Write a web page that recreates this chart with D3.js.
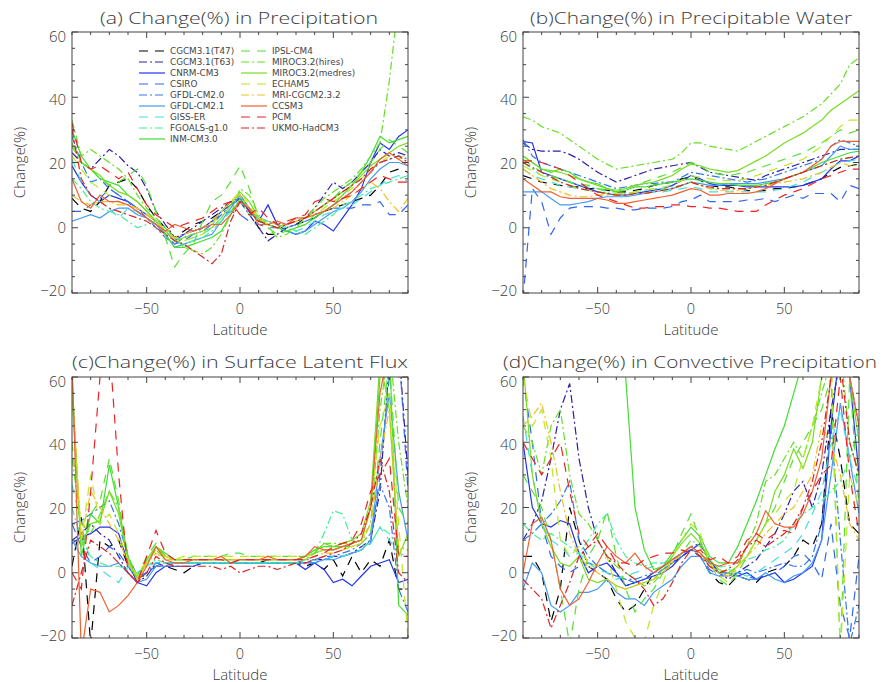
<!DOCTYPE html>
<html>
<head>
<meta charset="utf-8">
<script src="https://cdn.jsdelivr.net/npm/d3@7"></script>
<style>
  body { margin: 0; background: #fff; }
  text { font-family: "Open Sans", "DejaVu Sans", sans-serif; font-weight: 300; fill: #3a3a3a; }
  .legend text { font-family: "DejaVu Sans", sans-serif; font-weight: 400; fill: #444; }
</style>
</head>
<body>
<svg width="881" height="682"></svg>
<script>
// latitude grid (deg)
const lats = [-90,-85,-80,-75,-70,-65,-60,-55,-50,-45,-40,-35,-30,-25,-20,-15,-10,-5,0,5,10,15,20,25,30,35,40,45,50,55,60,65,70,75,80,85,90];

const models = ["CGCM3.1(T47)","CGCM3.1(T63)","CNRM-CM3","CSIRO","GFDL-CM2.0","GFDL-CM2.1","GISS-ER","FGOALS-g1.0","INM-CM3.0",
                "IPSL-CM4","MIROC3.2(hires)","MIROC3.2(medres)","ECHAM5","MRI-CGCM2.3.2","CCSM3","PCM","UKMO-HadCM3"];

const xTicks = [-50, 0, 50];
const yTicks = [-20, 0, 20, 40, 60];

// (a) precipitation change, one row per model
const precipChange = [
  [9,6,5,8,13,14,15,12,7,3,0,-3,-1,1,2,3,5,8,9,5,0,-2,-2,0,1,2,3,5,6,7,8,9,10,13,17,18,17],
  [23,20,18,21,24,22,19,17,12,5,1,-3,-2,0,2,4,6,8,8,4,0,-4,-2,0,1,3,6,10,14,12,14,17,20,24,22,23,22],
  [19,14,10,8,10,9,8,6,4,2,-1,-4,-2,-1,0,2,5,7,9,5,2,7,1,-1,-2,-1,2,1,-1,3,7,12,20,26,24,28,30],
  [5,5,7,9,12,10,8,5,3,1,-2,-5,-4,-2,0,2,4,5,4,2,1,0,0,1,2,3,4,5,6,6,6,7,7,8,4,4,7],
  [28,20,14,15,12,10,8,6,3,0,-3,-5,-3,-2,-1,1,4,7,10,6,3,2,1,0,1,2,3,5,7,9,11,14,17,20,21,22,21],
  [2,3,4,3,5,6,6,4,3,1,-2,-6,-5,-4,-3,-2,2,6,10,6,2,1,0,-1,-2,-1,1,3,5,6,8,11,15,18,20,20,19],
  [21,14,10,8,6,3,6,5,3,1,-1,-3,-4,-3,-2,0,2,5,8,5,3,2,1,0,-1,0,2,4,5,6,7,9,11,13,15,16,14],
  [15,12,8,6,5,4,2,0,1,2,0,-4,-5,-4,-3,-1,2,5,8,4,2,2,1,0,-1,-2,0,2,4,7,8,10,12,13,14,15,16],
  [30,22,18,15,14,13,10,8,5,2,-2,-6,-6,-5,-4,-3,-1,4,9,6,2,1,0,-1,0,1,3,5,7,10,13,17,22,28,26,27,28],
  [25,20,18,15,13,14,16,18,13,5,-3,-12,-8,-5,2,8,10,14,19,12,3,0,-2,-1,0,1,4,7,9,12,14,17,20,24,27,25,23],
  [33,22,24,22,20,18,15,10,6,3,0,-3,-6,-7,-8,-6,-2,4,12,10,4,0,-3,-2,0,3,6,9,11,13,15,18,22,26,45,70,80],
  [26,20,18,16,13,11,10,8,5,2,-1,-4,-3,-2,-1,0,3,7,11,8,3,1,0,1,2,3,5,7,9,11,13,16,19,21,23,25,26],
  [22,18,14,12,10,8,7,6,4,2,-1,-3,-4,-3,-2,1,5,8,11,7,3,1,0,1,2,3,4,6,8,10,12,15,18,20,22,21,23],
  [10,8,7,8,8,7,7,6,4,2,-1,-3,-2,-1,0,2,5,8,10,6,3,2,1,1,2,3,4,5,6,8,10,12,14,12,8,5,9],
  [15,8,6,10,8,8,7,5,3,1,-1,1,0,-1,0,1,1,4,8,6,1,1,2,1,3,3,4,5,7,9,11,14,17,21,23,21,19],
  [32,20,18,19,17,15,17,12,7,4,2,0,1,2,3,5,7,8,4,4,6,3,1,2,3,4,8,9,8,9,10,12,14,16,15,14,14],
  [30,15,10,8,6,5,4,3,2,0,-2,-4,-5,-7,-9,-11,-8,2,8,5,2,1,0,1,2,3,5,7,9,11,13,15,18,20,21,22,20]
];

// (b) precipitable water change
const pwChange = [
  [16,15,14,13.5,13,12.5,12.5,12,12,11.5,11,11,11.5,12,13,13.5,14,15,15.5,14.5,13,12.5,12.5,12,11.5,11,11.5,12,12,12.5,13,14,15,17,18.5,19,19.5],
  [26,24,23.5,23.5,23.5,22.5,21,19,17,15.5,14,15,16,17,18,18.5,19,19.5,20,18.5,17,16.5,16,15.5,15,14.5,16,17,18,19,20,21,22,23,24,24,24],
  [26.5,26,17,16,15,14,13,12,11,10.5,10,10,10.5,11,11.5,12,13,14.5,16,15,13.5,13,13,13,12.5,12.5,12.5,12.5,12.5,12.5,13,14,15,18,20.5,20.5,22],
  [-22,12,8,-2,3,6,6.5,6.5,6.5,6,6,5.5,5.5,6,6,6,6.5,8,8.5,10,8,8,8,8,8.5,8.5,9,8,9,10,9,10.5,10.5,10.5,8,13,12],
  [27,22,20,19,18,17,16,15,14,13,12,12.5,13,13.5,13.5,14,14,15.5,17,16.5,16,15.5,15,14.5,14,14.5,15,16,17,18,19,20,21,25,27,26,25],
  [11,11,11,9,7,7,7.5,8,9,9.5,9.5,9.5,10,10.5,11,11.5,12,13,14,13.5,13,13,13.5,13.5,13.5,13.5,14,14.5,15,16,17,18,19,22,25,24,24],
  [18,16,15,14,13,12.5,12,11.5,11,10.5,10,10,10.5,10.5,11,11,11.5,12,12.5,12,11,11,11,11,11,11,11,11.5,12,13,14,15.5,17,18.5,20,20.5,21],
  [20,18,16,15.5,15,14,13,12.5,12,11,10.5,10.5,11,11.5,12,12,12.5,13,14,13,12,12,12,12,12,12.5,13,14,15,16,17,18,19,20,21,21.5,22],
  [22,20,18,17,18,17,15,14,13.5,12,11,11.5,12.5,12.5,13,13.5,14,14.5,15,14.5,14,13.5,13.5,13,13,13,13.5,14,15,16,17,18.5,20,21,22,23,23.5],
  [21,19,17,16,15,14,13.5,13,12,11.5,11,12,13,14,15,16,17,18.5,20,19,17,16.5,16,16.5,17,18,19,20,21,22,23,24.5,26,28,30,29,30],
  [34,33,31,30,29,27,25,23,21,19.5,18,18.5,19,19.5,20,20.5,21,23,26,26,25,24.5,24,23.5,25,26.5,28,29.5,31,32.5,34,36,38,41,44,50,52],
  [22,20,18,17.5,17,16,15,14,13,12,11.5,12,13,13.5,14,15,16,18,19.5,19,18,17.5,17,17.5,19,20.5,22,24,26,27.5,29,31,33,36,38,40,42],
  [19,17.5,16,15,14,13,12,11.5,11,10.5,10.5,10.5,11,11.5,12,12.5,13,14.5,16,15.5,15,14.5,14.5,14.5,15,16,17,18,19,20,21,23,25,28,31,33,33],
  [18,16,14,12,11,10,9.5,9.5,10,10,10,10,10.5,10.5,11,11.5,12,13,14,13,12,11.5,11.5,11.5,12,12.5,13,13.5,14,14.5,15,16,17,18.5,20,19,19],
  [15,13,11,11,9.5,9,9,9,9,8.5,7.5,7.5,8,8.5,9,9.5,10,11,12,11.5,10,10,10.5,10.5,10.5,11,12,13.5,15,16,17,19,21,25,26.5,26.5,26.5],
  [20.5,20.5,20,19,18,16,14,12,10,9,8,7,6,6,6.5,6.5,7,7,6.5,6.5,6,6,5.5,5,5,5,7,8.5,10,11,12,13.5,15,16,17,18,18],
  [20,18.5,17,15.5,14,13,12,11.5,11,10.5,10,10,10.5,10.5,11,11.5,12,13,14,13,12.5,12,12,12,12,12.5,13,14,15,16,17,18,19,20,21,21.5,22]
];

// (c) surface latent flux change
const lhChange = [
  [2,17,-22,10,8,10,2,-2,0,2,2,1,0,2,3,3,3,3,3,3,3,4,3,3,3,2,3,1,4,-1,5,0,4,2,10,-5,-5],
  [10,12,15,12,10,5,0,-3,-1,3,2,3,3,3,3,3,3,3,3,3,3,3,3,3,3,3,4,4,5,5,6,8,10,25,65,70,30],
  [9,11,12,14,14,12,3,-3,-4,0,2,2,2,2,3,3,3,3,3,3,3,3,3,3,3,1,3,1,-3,-2,-4,-1,2,3,4,-3,-2],
  [15,8,3,5,8,6,2,-2,0,2,3,3,3,3,3,3,3,3,3,3,3,3,3,3,3,3,3,4,5,5,6,7,9,30,60,70,25],
  [15,16,18,20,22,15,5,-1,0,3,3,3,3,3,3,3,3,3,3,3,3,3,3,3,3,4,4,5,5,6,7,9,12,27,20,-5,-12],
  [10,5,3,2,2,3,0,-3,-2,2,2,3,3,3,3,3,3,3,3,3,3,3,3,3,3,3,3,4,4,5,6,7,10,35,55,25,10],
  [27,15,3,1,-1,-3,2,0,2,3,3,3,3,3,3,3,3,3,3,3,3,3,3,3,3,3,4,4,5,5,6,7,9,14,10,6,5],
  [20,10,5,3,2,2,1,0,2,4,3,3,3,3,3,3,3,3,3,3,3,3,3,3,3,4,6,12,19,18,10,8,9,14,12,8,7],
  [60,5,18,15,33,20,5,-2,4,8,6,4,4,4,4,4,4,4,4,4,4,4,4,4,4,5,7,8,8,8,9,10,20,60,70,-10,-13],
  [40,10,18,22,35,22,5,-1,5,9,5,4,4,5,5,5,5,6,6,5,5,5,5,5,5,5,6,7,7,8,8,9,12,40,65,20,15],
  [35,15,12,18,25,20,3,-2,3,7,4,4,4,4,4,4,4,4,4,4,4,4,4,4,4,4,6,9,9,9,9,10,15,50,70,40,20],
  [55,8,15,16,25,18,4,-2,4,8,5,4,4,4,4,4,4,4,4,4,4,4,4,4,4,5,6,9,8,9,10,12,22,65,50,5,12],
  [55,10,30,15,18,12,4,-1,4,7,5,4,5,5,5,5,5,5,5,5,5,5,5,5,5,5,6,7,7,8,8,9,20,45,55,15,-20],
  [58,10,25,20,15,10,3,-2,3,6,4,4,4,4,4,4,4,4,4,4,4,4,4,4,4,4,5,6,6,7,8,9,15,35,50,8,7],
  [65,-25,-5,-6,-12,-10,-7,-3,2,8,4,3,3,4,4,4,5,3,4,4,4,5,4,4,4,5,8,7,7,8,9,10,20,55,70,60,60],
  [0,-5,25,60,70,30,0,-3,5,13,6,4,4,4,4,4,4,3,4,4,4,4,4,4,4,4,5,6,8,9,10,15,25,30,35,5,5],
  [-10,0,10,8,6,3,0,-3,0,5,3,2,2,2,2,2,1,2,0,1,2,2,1,2,3,3,4,5,6,7,9,12,20,35,25,0,-3]
];

// (d) convective precipitation change
const convChange = [
  [5,5,0,-15,-5,20,10,2,0,-2,-8,-12,-10,-5,0,2,3,5,7,5,0,-3,-4,-1,-2,-3,0,1,2,5,10,8,15,50,35,15,12],
  [10,15,22,35,50,58,35,20,10,5,0,-4,-3,-2,0,2,4,6,8,9,3,0,-2,0,2,4,8,12,18,25,28,20,30,50,65,60,45],
  [40,20,15,14,16,15,6,0,2,3,0,-4,-3,-2,-1,0,2,5,7,9,4,0,0,-1,0,-2,-1,0,-3,-2,0,2,10,45,70,60,30],
  [60,40,15,5,2,0,2,3,2,0,-1,-2,-3,-2,-1,1,3,6,7,5,1,-1,-1,0,-1,-2,-1,0,2,5,6,3,-2,15,-10,-20,5],
  [10,12,15,18,22,28,10,5,2,0,-1,-2,-2,-1,0,1,3,5,7,6,2,0,-1,0,1,0,1,2,3,2,2,5,15,45,10,-22,-10],
  [-5,3,0,-10,-12,-10,-6,-6,-5,-2,-6,-8,-8,-10,-6,-4,-2,2,5,5,0,-1,0,-1,-2,-2,0,-2,-3,-1,0,3,10,30,52,35,18],
  [48,30,15,10,8,5,6,3,1,0,-2,-1,0,1,2,3,4,6,8,6,3,2,1,0,-1,0,2,4,6,8,12,18,25,40,50,35,25],
  [15,12,10,12,10,8,6,10,15,18,10,5,3,2,3,3,4,6,8,6,3,2,2,3,4,5,7,8,10,15,18,20,22,25,28,35,45],
  [75,75,75,75,75,75,75,75,75,75,75,60,20,7,1,2,6,10,14,11,5,3,3,8,15,22,30,38,45,55,65,75,80,80,80,80,80],
  [30,25,20,10,-5,-22,-5,5,10,19,5,-5,-12,-8,-5,0,5,12,18,10,3,-2,-4,0,5,10,15,20,28,35,40,45,50,60,-25,60,20],
  [45,40,30,45,50,30,18,15,10,5,2,0,-2,-4,-3,0,3,6,10,8,3,0,-1,2,8,15,28,30,35,40,35,45,55,65,70,40,30],
  [65,30,15,8,3,2,5,-2,-3,-2,-4,-5,-4,-3,-2,1,5,9,12,9,4,1,0,2,5,10,15,25,30,38,32,40,60,75,75,60,40],
  [60,45,50,35,10,5,8,3,2,5,-5,-15,-20,-21,-10,-3,5,10,15,12,3,-1,-3,2,5,10,15,18,22,25,35,45,60,70,-25,30,20],
  [45,48,52,40,25,12,5,2,0,-2,-4,-5,-4,-3,-2,0,3,6,8,6,2,0,-1,2,5,8,12,15,18,20,25,30,45,40,30,15,10],
  [0,15,17,10,-5,-10,-8,-3,3,8,5,3,6,2,0,2,4,6,8,6,3,2,3,3,8,12,19,15,14,14,18,25,35,60,70,60,45],
  [40,35,30,35,40,25,12,8,12,8,3,3,2,4,5,6,6,7,6,7,4,5,3,5,10,12,10,12,13,12,20,25,30,33,60,30,12],
  [-2,-5,-8,-17,-10,-3,5,8,10,5,3,0,-2,-5,-10,-8,-3,3,7,5,2,0,1,4,8,10,8,10,12,15,20,28,40,60,65,40,30]
];

// line styles per model
const modelColors = ["#000000","#2a1fa8","#2233ee","#3366ee","#3377f0","#4499f5","#44dddd","#44ee99","#44dd33",
                     "#55e033","#66e022","#77dd22","#bbe822","#f0c020","#f06030","#ee2222","#dd2222"];
const modelStyle = ["dash","dashdot","solid","dash","dashdot","solid","dash","dashdot","solid",
                    "dash","dashdot","solid","dash","dashdot","solid","dash","dashdot"];
const dashes = { solid: null, dash: "9,7", dashdot: "8,3,2,3" };

const W = 336, H = 261;
const panels = [
  { data: precipChange, title: "(a) Change(%) in Precipitation", left: 72, top: 32, tx: 100, ty: 24, tlen: 278 },
  { data: pwChange, title: "(b)Change(%) in Precipitable Water", left: 523, top: 32, tx: 530, ty: 24, tlen: 322 },
  { data: lhChange, title: "(c)Change(%) in Surface Latent Flux", left: 72, top: 377, tx: 72, ty: 368, tlen: 336 },
  { data: convChange, title: "(d)Change(%) in Convective Precipitation", left: 523, top: 377, tx: 503, ty: 368, tlen: 374 }
];

const svg = d3.select("svg");

const x = d3.scaleLinear().domain([-90, 90]).range([0, W]);
const y = d3.scaleLinear().domain([-20, 60]).range([H, 0]);
const fmt = d3.format("d");

panels.forEach((p, pi) => {
  const g = svg.append("g").attr("transform", `translate(${p.left},${p.top})`);

  g.append("clipPath").attr("id", "clip" + pi)
    .append("rect").attr("width", W).attr("height", H);

  // model curves
  const line = d3.line().x((d, i) => x(lats[i])).y(d => y(d));
  g.append("g").attr("clip-path", `url(#clip${pi})`)
    .selectAll("path")
    .data(p.data)
    .join("path")
      .attr("fill", "none")
      .attr("stroke", (d, i) => modelColors[i])
      .attr("stroke-width", 1.2)
      .attr("stroke-dasharray", (d, i) => dashes[modelStyle[i]])
      .attr("d", line);

  // frame
  g.append("rect").attr("width", W).attr("height", H)
    .attr("fill", "none").attr("stroke", "#444").attr("stroke-width", 1);

  // ticks (inward, all four sides)
  const tk = g.append("g").attr("stroke", "#444").attr("stroke-width", 1);
  d3.range(-90, 91, 10).forEach(v => {
    const len = v % 50 === 0 ? 6 : 3;
    tk.append("line").attr("x1", x(v)).attr("x2", x(v)).attr("y1", H).attr("y2", H - len);
    tk.append("line").attr("x1", x(v)).attr("x2", x(v)).attr("y1", 0).attr("y2", len);
  });
  d3.range(-20, 61, 5).forEach(v => {
    const len = v % 20 === 0 ? 6 : 3;
    tk.append("line").attr("y1", y(v)).attr("y2", y(v)).attr("x1", 0).attr("x2", len);
    tk.append("line").attr("y1", y(v)).attr("y2", y(v)).attr("x1", W).attr("x2", W - len);
  });

  // tick labels
  g.selectAll(".xl").data(xTicks).join("text")
    .attr("x", d => x(d)).attr("y", H + 21)
    .attr("text-anchor", "middle").attr("font-size", 14.5)
    .text(d => fmt(d));
  g.selectAll(".yl").data(yTicks).join("text")
    .attr("x", -6).attr("y", d => y(d) + 5 + d * 0.08)
    .attr("text-anchor", "end").attr("font-size", 15)
    .text(d => fmt(d));

  // axis titles
  g.append("text").attr("x", W / 2).attr("y", H + 41.5)
    .attr("text-anchor", "middle").attr("font-size", 15).text("Latitude");
  g.append("text").attr("transform", `translate(-47,${H / 2}) rotate(-90)`)
    .attr("text-anchor", "middle").attr("font-size", 15).text("Change(%)");

  // panel title
  svg.append("text").attr("x", p.tx).attr("y", p.ty)
    .attr("font-size", 17).attr("textLength", p.tlen).attr("lengthAdjust", "spacingAndGlyphs")
    .text(p.title);
});

// legend in panel (a)
const leg = svg.append("g").attr("class", "legend");
models.forEach((m, i) => {
  const col = i < 9 ? 0 : 1;
  const row = i < 9 ? i : i - 9;
  const lx = col === 0 ? 139 : 241;
  const ly = 51 + row * 11;
  leg.append("line").attr("x1", lx).attr("x2", lx + 26).attr("y1", ly).attr("y2", ly)
    .attr("stroke", modelColors[i]).attr("stroke-width", 1.2)
    .attr("stroke-dasharray", dashes[modelStyle[i]]);
  leg.append("text").attr("x", lx + 31).attr("y", ly + 3.3)
    .attr("font-size", 8.8).text(m);
});
</script>
</body>
</html>
